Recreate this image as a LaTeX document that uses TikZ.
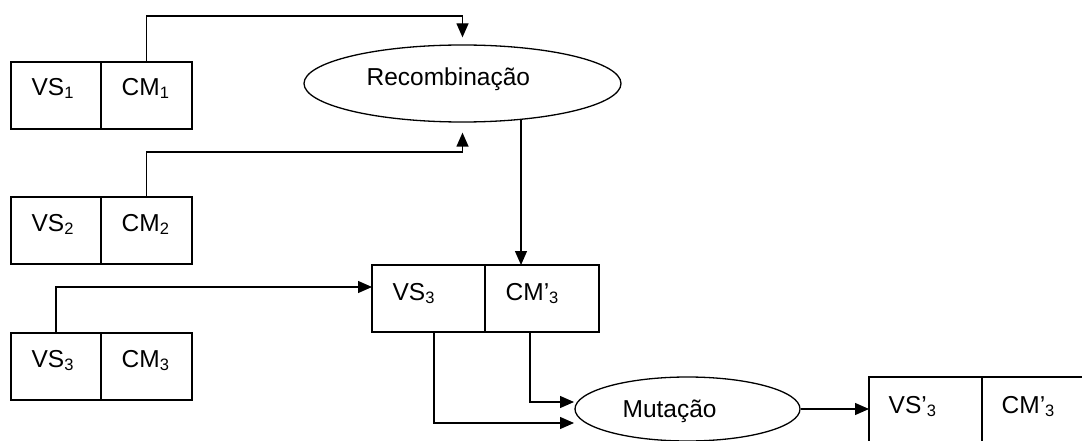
\documentclass[tikz,border=0pt]{standalone}
\usepackage{fontspec}
\setmainfont{Liberation Sans}
\usetikzlibrary{arrows.meta,shapes.geometric,calc}
% lowered, smaller index digit
\newcommand\lowidx[1]{\raisebox{-3pt}{\fontsize{16.5}{18}\selectfont #1}}
\begin{document}
\begin{tikzpicture}[x=1pt,y=-1pt,line width=1.3pt,
  cell/.style={draw, rectangle, minimum width=#1, minimum height=67pt,
               anchor=north west, inner sep=0pt, outer sep=0pt},
  oval/.style={draw, ellipse, inner sep=0pt},
  txt/.style={anchor=base west, inner sep=0pt, font=\fontsize{24.5}{28}\selectfont},
  arr/.style={-{Triangle[length=14pt,width=12pt]}}]

\useasboundingbox (0,0) rectangle (1082,441);
\clip (0,0) rectangle (1082,441);

% parent records
\node[cell=90] (c1a) at (11,62) {};
\node[cell=91] (c1b) at (c1a.north east) {};
\node[cell=90] (c2a) at (11,197) {};
\node[cell=91] (c2b) at (c2a.north east) {};
\node[cell=90] (c3a) at (11,333) {};
\node[cell=91] (c3b) at (c3a.north east) {};

% intermediate and final records
\node[cell=113] (m1) at (372,265) {};
\node[cell=114] (m2) at (m1.north east) {};
\node[cell=113] (f1) at (869,377) {};
\node[cell=113] (f2) at (f1.north east) {};

% cell labels
\node[txt] (t1a) at ([shift={(20pt,-34pt)}]c1a.north west) {VS\lowidx{1}};
\node[txt] (t1b) at ([shift={(20pt,-34pt)}]c1b.north west) {CM\lowidx{1}};
\node[txt] (t2a) at ([shift={(20pt,-34pt)}]c2a.north west) {VS\lowidx{2}};
\node[txt] (t2b) at ([shift={(20pt,-34pt)}]c2b.north west) {CM\lowidx{2}};
\node[txt] (t3a) at ([shift={(20pt,-34pt)}]c3a.north west) {VS\lowidx{3}};
\node[txt] (t3b) at ([shift={(20pt,-34pt)}]c3b.north west) {CM\lowidx{3}};
\node[txt] (tm1) at ([shift={(20pt,-35pt)}]m1.north west) {VS\lowidx{3}};
\node[txt] (tm2) at ([shift={(20pt,-35pt)}]m2.north west) {CM’\lowidx{3}};
\node[txt] (tf1) at ([shift={(19pt,-36pt)}]f1.north west) {VS’\lowidx{3}};
\node[txt] (tf2) at ([shift={(19pt,-36pt)}]f2.north west) {CM’\lowidx{3}};

% operators
\node[oval, minimum width=317pt, minimum height=77pt] (rec) at (462.5,83.5) {};
\node[txt] (rect) at (366,86) {Recombinação};
\node[oval, minimum width=225pt, minimum height=64pt] (mut) at (687.5,409) {};
\node[txt] (mutt) at (622,417) {Mutação};

% routing levels
\coordinate (r1) at (0,16);
\coordinate (r2) at (0,152);
\coordinate (r3) at (0,287);
\coordinate (d) at (521,0);
\coordinate (pL) at (434,423);
\coordinate (pR) at (530,402);
\coordinate (tipx) at (574,0);

% connectors
\draw[arr] (c1b.north) -- (c1b.north |- r1) -| ([yshift=7pt]rec.north);
\draw[arr] (c2b.north) -- (c2b.north |- r2) -| ([yshift=-10pt]rec.south);
\draw[arr] ([yshift=3pt]rec.south -| d) -- (m2.north -| d);
\draw[arr] (c3a.north) -- (c3a.north |- r3) -- (m1.west |- r3);
\draw[arr] (m1.south -| pL) -- (pL) -- (pL -| tipx);
\draw[arr] (m2.south -| pR) -- (pR) -- (pR -| tipx);
\draw[arr] (mut.east) -- (f1.west |- mut.east);
\end{tikzpicture}
\end{document}
